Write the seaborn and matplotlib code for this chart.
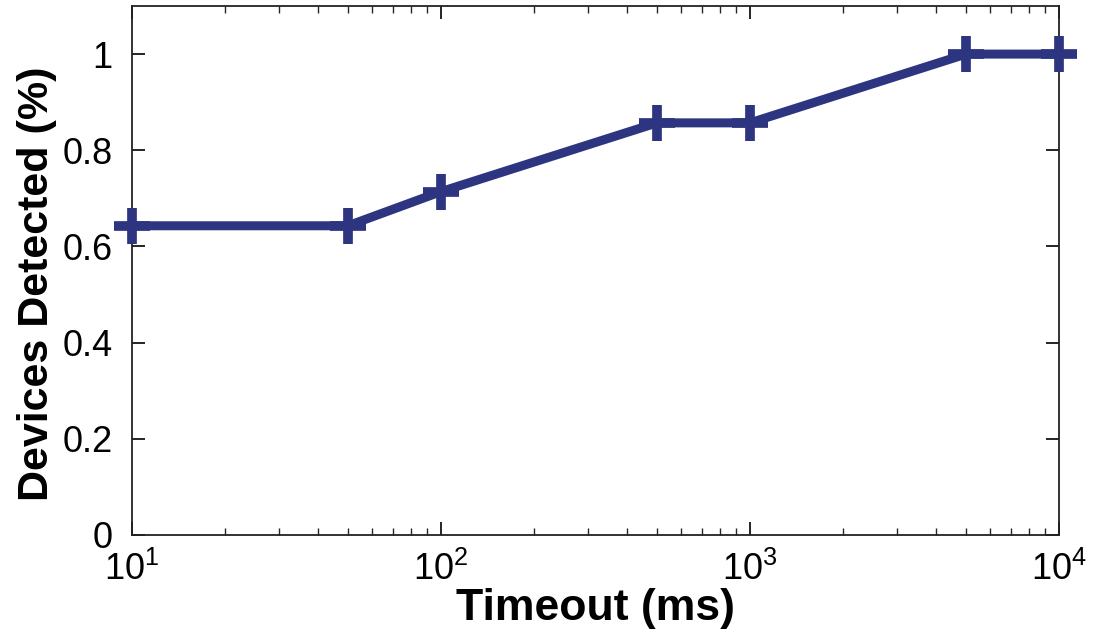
import matplotlib
matplotlib.use("Agg")
import matplotlib.pyplot as plt
import seaborn as sns
import pandas as pd
from matplotlib.ticker import LogLocator, NullFormatter

timeout_ms = [10, 50, 100, 500, 1000, 5000, 10000]
detected = [0.643, 0.643, 0.714, 0.857, 0.857, 1.0, 1.0]
y_ticks = [0, 0.2, 0.4, 0.6, 0.8, 1]
y_tick_labels = ["0", "0.2", "0.4", "0.6", "0.8", "1"]

sns.set_theme(style="ticks")
plt.rcParams["font.family"] = ["Liberation Sans", "DejaVu Sans"]
plt.rcParams["mathtext.fontset"] = "custom"
plt.rcParams["mathtext.rm"] = "Liberation Sans"
plt.rcParams["mathtext.it"] = "Liberation Sans"
plt.rcParams["mathtext.bf"] = "Liberation Sans:bold"

line_color = "#2e3580"
df = pd.DataFrame({"Timeout (ms)": timeout_ms, "Devices Detected (%)": detected})

fig = plt.figure(figsize=(10.94, 6.38), dpi=100)
ax = fig.add_axes([132 / 1094, 1 - 535 / 638, (1059 - 132) / 1094, (535 - 6) / 638])

sns.lineplot(data=df, x="Timeout (ms)", y="Devices Detected (%)", ax=ax,
             color=line_color, linewidth=6.5, marker="+", markersize=26,
             markeredgewidth=7, markeredgecolor=line_color,
             markerfacecolor=line_color, clip_on=False, zorder=5)

ax.set_xscale("log")
ax.set_xlim(10, 10000)
ax.set_ylim(0, 1.1)
ax.set_yticks(y_ticks)
ax.set_yticklabels(y_tick_labels)
ax.xaxis.set_minor_locator(LogLocator(base=10, subs=range(2, 10)))
ax.xaxis.set_minor_formatter(NullFormatter())

for s in ax.spines.values():
    s.set_visible(True)
    s.set_linewidth(1.3)
    s.set_color("#222222")

ax.tick_params(axis="both", which="major", direction="in", length=9.5, width=1.2,
               top=True, right=True, labelsize=26, colors="black")
ax.tick_params(axis="y", which="major", pad=14)
ax.tick_params(axis="x", which="major", pad=12)
ax.tick_params(axis="x", which="minor", direction="in", length=5, width=1.0,
               top=True, bottom=True)
ax.tick_params(axis="y", which="minor", left=False, right=False)

ax.set_xlabel("Timeout (ms)", fontsize=32, fontweight="bold", labelpad=0, color="black")
ax.set_ylabel("Devices Detected (%)", fontsize=31, fontweight="bold", labelpad=4, color="black")
ax.yaxis.label.set_y(0.475)

fig.savefig("out.png", dpi=100)
